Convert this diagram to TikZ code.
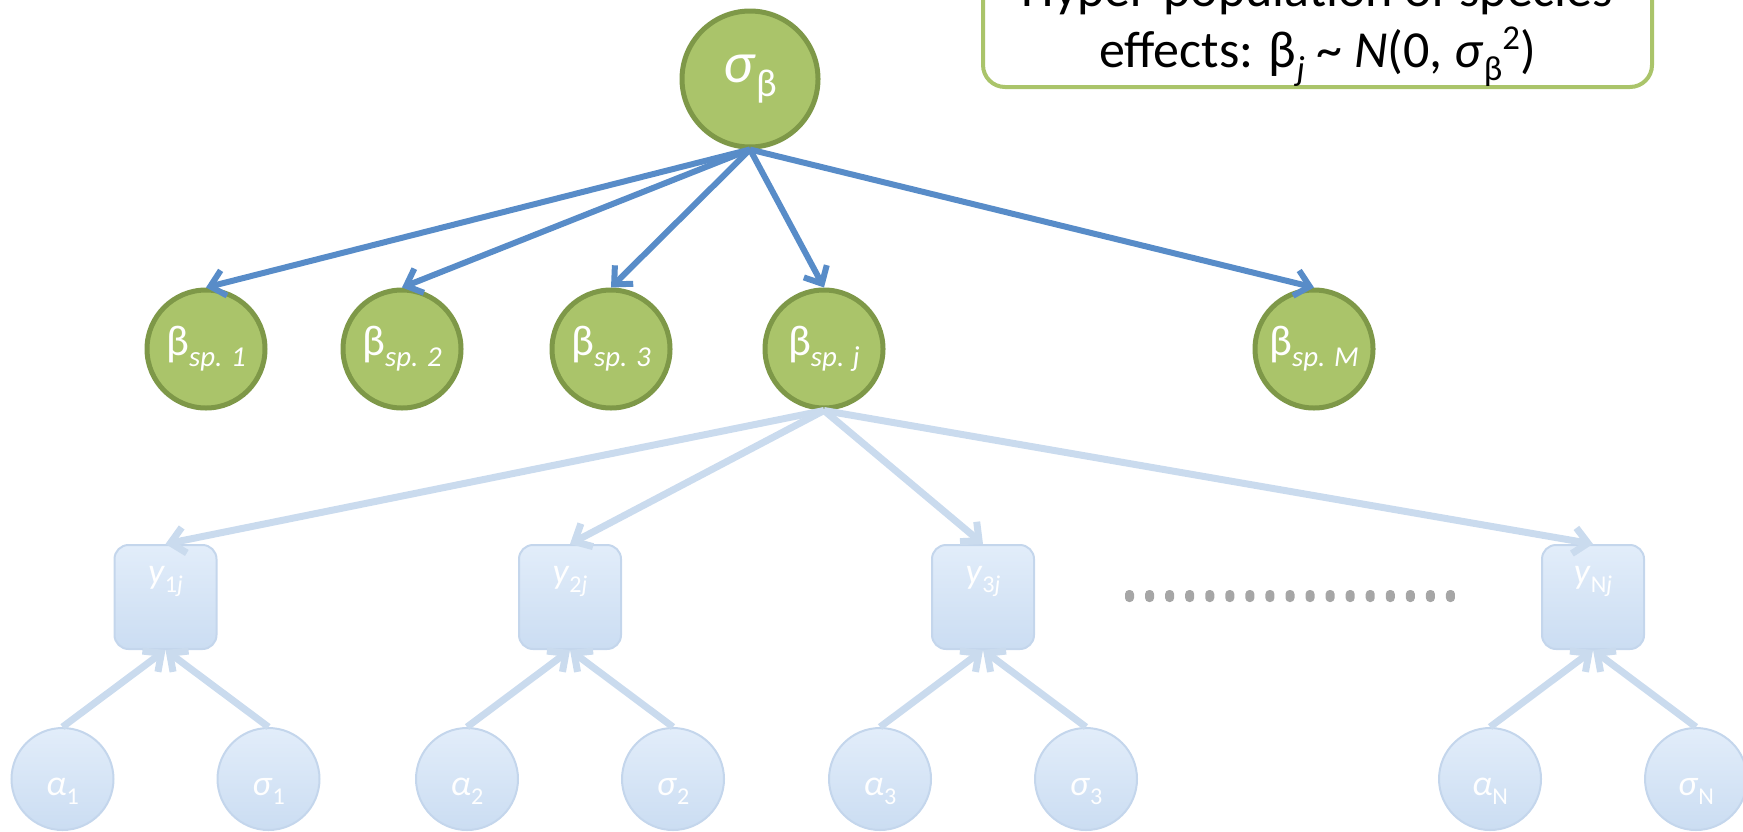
\documentclass[tikz,border=0pt]{standalone}
\usepackage{fontspec}
\setmainfont{Carlito}
\usetikzlibrary{arrows.meta}
\definecolor{leafgreen}{RGB}{170,196,106}
\definecolor{olivegreen}{RGB}{126,152,72}
\definecolor{arrowblue}{RGB}{88,140,200}
\definecolor{paleblue}{RGB}{202,219,238}
\definecolor{paletop}{RGB}{226,237,250}
\definecolor{palebottom}{RGB}{203,221,242}
\definecolor{paleline}{RGB}{196,214,236}
\definecolor{dotgray}{RGB}{166,166,166}
\makeatletter
\newcommand{\lowsub}[1]{\raisebox{-0.25em}{\fontsize{\fpeval{0.67*\f@size}}{0}\selectfont #1}}
\newcommand{\highsup}[1]{\raisebox{0.33em}{\fontsize{\fpeval{0.67*\f@size}}{0}\selectfont #1}}
\makeatother
\tikzstyle{hypernode}=[circle,draw=olivegreen,fill=leafgreen,line width=2.5pt,text=white,minimum size=68pt,inner sep=0pt,font=\fontsize{29}{32}\selectfont]
\tikzstyle{spnode}=[circle,draw=olivegreen,fill=leafgreen,line width=2.5pt,text=white,minimum size=59pt,inner sep=0pt,font=\fontsize{21.5}{24}\selectfont]
\tikzstyle{obsbox}=[rectangle,rounded corners=7pt,draw=paleline,line width=1pt,top color=paletop,bottom color=palebottom,text=white,minimum width=51pt,minimum height=52pt,inner sep=0pt,text height=4pt,text depth=18pt,font=\fontsize{18}{20}\selectfont]
\tikzstyle{parnode}=[circle,draw=paleline,line width=1pt,top color=paletop,bottom color=palebottom,text=white,minimum size=51pt,inner sep=0pt,text height=18pt,text depth=2pt,font=\fontsize{18}{20}\selectfont]
\tikzstyle{notebox}=[rectangle,draw=leafgreen,fill=white,line width=2pt,rounded corners=11pt,anchor=south,minimum width=334.5pt,align=center,inner ysep=10pt,text depth=0pt,font=\fontsize{26}{30.5}\selectfont]
\tikzstyle{bluearrow}=[draw=arrowblue,line width=3pt,-{Straight Barb[length=7pt,width=13pt]}]
\tikzstyle{fadearrow}=[draw=paleblue,line width=3.5pt,-{Straight Barb[length=7pt,width=13pt]}]
\newcommand{\obsgroup}[3]{% name, x of the box, index
  \node[obsbox] (y#1) at (#2,597) {\textit{y}\lowsub{#3\textit{j}}};
  \node[parnode] (a#1) at (#2-103,779) {\textit{α}\lowsub{#3}};
  \node[parnode] (s#1) at (#2+103,779) {\textit{σ}\lowsub{#3}};
  \draw[fadearrow] (a#1.north) -- (y#1.south);
  \draw[fadearrow] (s#1.north) -- (y#1.south);
}
\begin{document}
\begin{tikzpicture}[x=0.5pt,y=-0.5pt]
	\clip (0,0) rectangle (1743,831);
	% hyper-parameter and species effects
	\node[hypernode] (sb) at (750,79) {\textit{σ}\lowsub{β}};
	\node[spnode] (b1) at (206,349) {β\lowsub{\textit{sp. 1}}};
	\node[spnode] (b2) at (402,349) {β\lowsub{\textit{sp. 2}}};
	\node[spnode] (b3) at (611,349) {β\lowsub{\textit{sp. 3}}};
	\node[spnode] (bj) at (824,349) {β\lowsub{\textit{sp. j}}};
	\node[spnode] (bM) at (1314,349) {β\lowsub{\textit{sp. M}}};
	\foreach \b in {b1,b2,b3,bj,bM}
		\draw[bluearrow] (sb.south) -- (\b.north);
	% observations
	\obsgroup{1}{165.5}{1}
	\obsgroup{2}{570}{2}
	\obsgroup{3}{983}{3}
	\obsgroup{N}{1593}{N}
	\foreach \n in {1,2,3,N}
		\draw[fadearrow] (bj.south) -- (y\n.north);
	%dots
	\foreach \i in {0,...,16}
		\fill[dotgray,rounded corners=2pt] ({1125+20.06*\i},590) rectangle +(9,12);
	\node[notebox] (note) at (1317.5,89) {Hyper-population of species\\effects: β\lowsub{\textit{j}} \textasciitilde{} \textit{N}(0, \textit{σ}\lowsub{β}\highsup{2})};
\end{tikzpicture}
\end{document}
